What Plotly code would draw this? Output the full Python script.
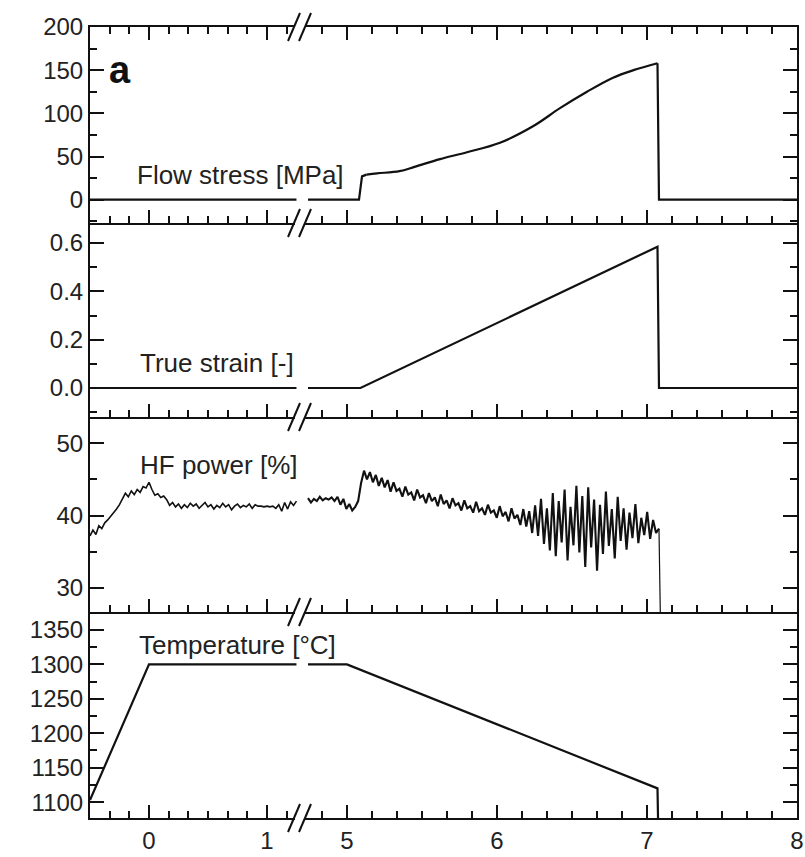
import numpy as np
import plotly.graph_objects as go
from plotly.subplots import make_subplots

# ---------------- data ----------------
left_x_range = [-0.5, 1.297]
right_x_range = [4.7, 8.0001]
left_x_ticks = [0, 1]
right_x_ticks = [5, 6, 7, 8]
left_x_minor = [-3/6, -2/6, -1/6, 1/6, 2/6, 3/6, 4/6, 5/6, 7/6]
right_x_minor = [29/6, 31/6, 32/6, 33/6, 34/6, 35/6, 37/6, 38/6, 39/6, 40/6, 41/6,
                 43/6, 44/6, 45/6, 46/6, 47/6]

# Flow stress [MPa]
stress_left_x = [-0.5, 1.25]
stress_left_y = [0, 0]
stress_rise_x = [4.74, 5.08, 5.10, 5.13]
stress_rise_y = [0, 0, 27, 29]
stress_curve_x = [5.13, 5.20, 5.35, 5.45, 5.62, 5.80, 6.02, 6.24, 6.42, 6.60, 6.77, 6.91, 7.07]
stress_curve_y = [29, 30.5, 33, 38, 47, 55, 66, 85, 106, 125, 141, 150, 158]
stress_drop_x = [7.07, 7.08, 8.0]
stress_drop_y = [158, 0, 0]

# True strain [-]
strain_left_x = [-0.5, 1.25]
strain_left_y = [0, 0]
strain_right_x = [4.74, 5.09, 7.07, 7.08, 8.0]
strain_right_y = [0, 0, 0.585, 0, 0]

# HF power [%]
hf_left_y = [37.2, 38.0, 37.4, 38.6, 38.2, 39.0, 39.4, 39.9, 40.3, 40.9,
             41.5, 42.2, 43.1, 42.6, 43.4, 42.9, 43.6, 43.2, 44.0, 43.8,
             44.6, 43.6, 42.8, 43.0, 42.5, 42.7, 42.2, 41.4, 41.8, 41.2,
             41.6, 41.0, 41.5, 41.1, 41.7, 41.3, 41.6, 41.0, 41.4, 41.8,
             41.2, 41.5, 40.9, 41.4, 41.1, 41.7, 41.2, 41.5, 40.8, 41.3,
             41.6, 41.1, 41.4, 41.2, 41.6, 41.0, 41.5, 41.3, 41.3, 41.2,
             41.3, 41.2, 41.3, 41.0, 41.5, 40.6, 41.8, 40.9, 41.9, 41.4, 42.0]
hf_left_x = np.linspace(-0.5, 1.25, len(hf_left_y))

hf_right_y = [42.4, 41.8, 42.3, 42.0, 42.6, 42.1, 42.4, 42.2, 42.5, 42.0, 42.6, 41.5, 42.3, 40.9, 41.6, 40.7,
              41.2, 42.0, 44.5, 46.2, 45.0, 46.0, 44.6, 45.6, 44.1, 45.2, 43.9, 44.9, 43.3, 44.6, 43.4, 43.7,
              42.6, 44.0, 42.9, 43.2, 42.1, 43.6, 42.5, 42.8, 41.7, 43.1, 42.0, 42.5, 41.3, 42.9, 41.6, 42.1,
              41.0, 42.4, 41.4, 41.7, 40.7, 42.1, 41.0, 41.3, 40.4, 41.9, 40.6, 41.0, 40.1, 41.5, 40.4, 40.7,
              39.7, 41.3, 39.9, 40.5, 39.2, 41.0, 39.6, 40.1, 38.7, 40.9, 38.5, 40.6, 37.6, 41.4, 37.2, 42.3,
              36.1, 41.0, 35.2, 43.1, 34.4, 42.0, 36.3, 43.6, 33.8, 41.2, 35.9, 44.1, 34.9, 42.7, 32.9, 43.9,
              35.6, 42.2, 32.4, 41.5, 34.7, 43.3, 35.8, 40.9, 34.1, 42.6, 36.5, 41.0, 35.3, 40.4, 36.9, 41.6,
              36.2, 39.7, 37.3, 40.5, 36.8, 39.4, 37.6, 38.2]
hf_right_x = list(np.linspace(4.74, 7.08, len(hf_right_y)))
hf_drop_x = [7.08, 7.09]
hf_drop_y = [38.2, 25.0]

# Temperature [°C]
temp_left_x = [-0.5, 0.0, 1.25]
temp_left_y = [1103, 1300, 1300]
temp_right_x = [4.74, 5.0, 7.07, 7.075]
temp_right_y = [1300, 1300, 1120, 1060]

labels = ["Flow stress [MPa]", "True strain [-]", "HF power [%]", "Temperature [°C]"]
y_ranges = [[-27, 200], [-0.12, 0.683], [26.7, 53.6], [1077, 1376]]
y_dticks = [50, 0.2, 10, 50]
y_minor = [25, 0.1, 5, 25]
y_fmt = ["", ".1f", "", ""]

# ---------------- figure ----------------
W, H = 805, 857
L, R, T, B = 90, 8, 27, 39
fig = make_subplots(rows=4, cols=2, horizontal_spacing=0, vertical_spacing=0,
                    column_widths=[212, 495], row_heights=[196, 194, 195, 206])

BLACK = "#111111"
line_main = dict(color=BLACK, width=2.2)
line_hf = dict(color=BLACK, width=2.1)

def add(x, y, r, c, ln=line_main, shape="linear"):
    fig.add_trace(go.Scatter(x=x, y=y, mode="lines", line=dict(ln, shape=shape),
                             showlegend=False, hoverinfo="skip"), row=r, col=c)

add(stress_left_x, stress_left_y, 1, 1)
add(stress_rise_x, stress_rise_y, 1, 2)
add(stress_curve_x, stress_curve_y, 1, 2, shape="spline")
add(stress_drop_x, stress_drop_y, 1, 2)
add(strain_left_x, strain_left_y, 2, 1)
add(strain_right_x, strain_right_y, 2, 2)
add(hf_left_x, hf_left_y, 3, 1, dict(color=BLACK, width=1.6))
add(hf_right_x, hf_right_y, 3, 2, line_hf)
add(hf_drop_x, hf_drop_y, 3, 2, dict(color=BLACK, width=1.2))
add(temp_left_x, temp_left_y, 4, 1)
add(temp_right_x, temp_right_y, 4, 2)

tickfont = dict(family="Liberation Sans, Arial, sans-serif", size=24, color="#222222")

for r in range(1, 5):
    for c in (1, 2):
        fig.update_xaxes(row=r, col=c,
                         range=left_x_range if c == 1 else right_x_range,
                         tickmode="array",
                         tickvals=left_x_ticks if c == 1 else right_x_ticks,
                         ticks="inside", ticklen=13, tickwidth=2,
                         tickcolor=BLACK, showline=True, linecolor=BLACK, linewidth=2,
                         mirror="ticks" if r == 1 else False,
                         showgrid=False, zeroline=False, automargin=False,
                         showticklabels=(r == 4), tickfont=tickfont,
                         minor=dict(tickmode="array",
                                    tickvals=left_x_minor if c == 1 else right_x_minor,
                                    ticks="inside", ticklen=7, tickwidth=2,
                                    tickcolor=BLACK, showgrid=False))
        fig.update_yaxes(row=r, col=c,
                         range=y_ranges[r-1], dtick=y_dticks[r-1], tick0=0,
                         tickformat=y_fmt[r-1],
                         ticks="inside", ticklen=14, tickwidth=2, tickcolor=BLACK,
                         showline=True, linecolor=BLACK, linewidth=2,
                         side="left" if c == 1 else "right",
                         showticklabels=(c == 1), tickfont=tickfont,
                         showgrid=False, zeroline=False, automargin=False,
                         minor=dict(dtick=y_minor[r-1], tick0=0, ticks="inside", ticklen=7,
                                    tickwidth=2, tickcolor=BLACK, showgrid=False))

def px_x(px):
    return (px - L) / (W - L - R)

def px_y(py):
    return (H - B - py) / (H - T - B)

annfont = dict(family="Liberation Sans, Arial, sans-serif", size=26, color="#222222")
label_pos = [(135, 175), (138, 363), (138, 465), (137, 645)]
anns = []
for text, (ax, ay) in zip(labels, label_pos):
    anns.append(dict(text=text, x=px_x(ax), y=px_y(ay), xref="paper", yref="paper",
                     xanchor="left", yanchor="middle", showarrow=False, font=annfont))
anns.append(dict(text="<b>a</b>", x=px_x(107), y=px_y(70), xref="paper", yref="paper",
                 xanchor="left", yanchor="middle", showarrow=False,
                 font=dict(family="Liberation Sans, Arial, sans-serif", size=38, color="#111111")))

shapes = []
for by in [27, 223, 417, 612, 818]:
    shapes.append(dict(type="line", xref="paper", yref="paper",
                       x0=px_x(295), x1=px_x(305), y0=px_y(by), y1=px_y(by),
                       line=dict(color="white", width=4), layer="above"))
    for x0 in (288, 299):
        shapes.append(dict(type="line", xref="paper", yref="paper",
                           x0=px_x(x0), y0=px_y(by + 14), x1=px_x(x0 + 12), y1=px_y(by - 14),
                           line=dict(color=BLACK, width=2), layer="above"))

fig.update_layout(template="none", width=W, height=H, margin=dict(l=L, r=R, t=T, b=B),
                  paper_bgcolor="white", plot_bgcolor="rgba(0,0,0,0)",
                  annotations=anns, shapes=shapes, showlegend=False)

fig.write_html("out.html")
